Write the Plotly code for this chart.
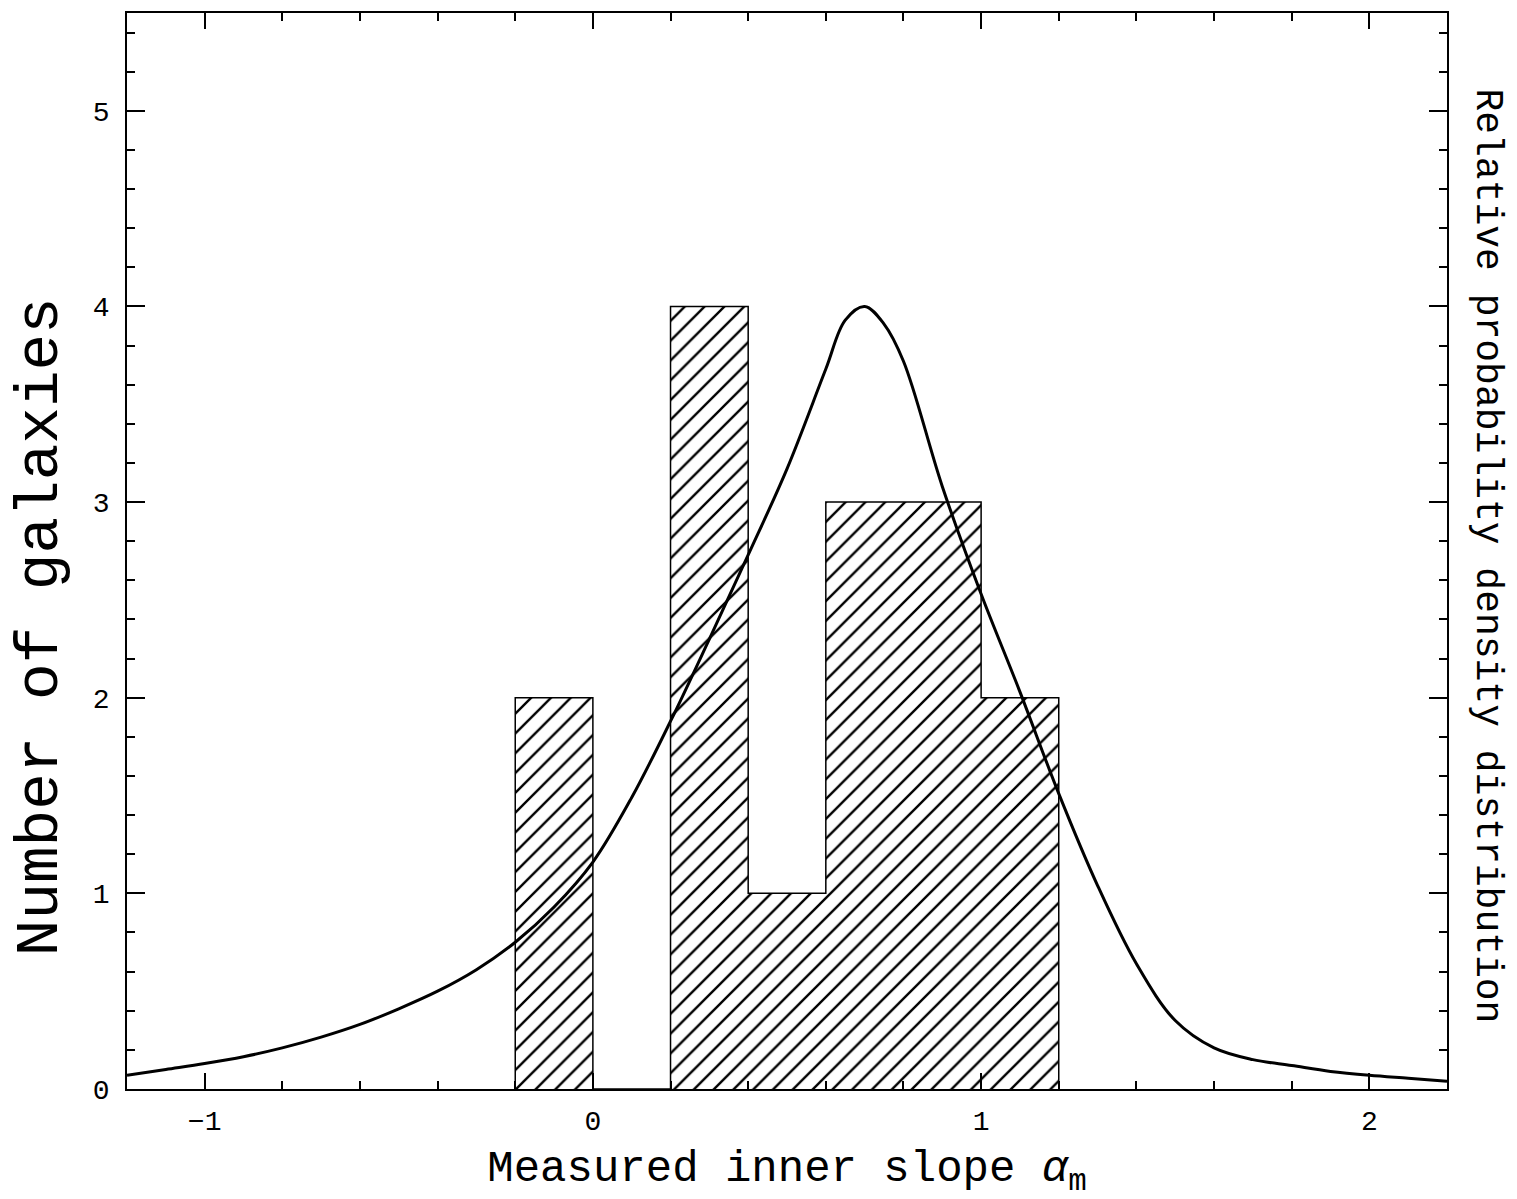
import plotly.graph_objects as go

# Histogram data (bin centres, counts)
bin_centers = [-0.1, 0.1, 0.3, 0.5, 0.7, 0.9, 1.1]
bin_counts = [2, 0, 4, 1, 3, 3, 2]
bin_width = 0.2

# Relative probability density curve (scaled to histogram axis)
curve_x = [-1.2, -1.1, -1.0, -0.9, -0.8, -0.7, -0.6, -0.5, -0.4, -0.3, -0.2, -0.1,
           0.0, 0.1, 0.2, 0.3, 0.4, 0.5, 0.6, 0.65, 0.7, 0.75, 0.8, 0.9, 1.0,
           1.1, 1.2, 1.3, 1.4, 1.5, 1.6, 1.7, 1.8, 1.9, 2.0, 2.1, 2.2]
curve_y = [0.07, 0.10, 0.13, 0.165, 0.21, 0.265, 0.33, 0.41, 0.50, 0.61, 0.75, 0.93,
           1.16, 1.49, 1.88, 2.30, 2.73, 3.17, 3.68, 3.93, 4.00, 3.91, 3.72, 3.08, 2.53,
           2.03, 1.51, 1.04, 0.64, 0.35, 0.21, 0.15, 0.12, 0.09, 0.07, 0.055, 0.04]

x_ticks = [-1, 0, 1, 2]
y_ticks = [0, 1, 2, 3, 4, 5]

FONT = "Liberation Mono"

# Histogram step outline derived from the bins
step_x, step_y = [], []
for c, n in zip(bin_centers, bin_counts):
    step_x += [c - bin_width / 2, c + bin_width / 2]
    step_y += [n, n]
step_x = [step_x[0]] + step_x + [step_x[-1]]
step_y = [0] + step_y + [0]

fig = go.Figure()
fig.add_trace(go.Bar(
    x=bin_centers, y=bin_counts, width=bin_width,
    marker=dict(color="white",
                line=dict(color="black", width=0),
                pattern=dict(shape="/", size=14, solidity=0.17,
                             fgcolor="black", bgcolor="white", fgopacity=1)),
    showlegend=False,
))
fig.add_trace(go.Scatter(
    x=step_x, y=step_y, mode="lines",
    line=dict(color="black", width=1.5, shape="linear"),
    showlegend=False,
))
fig.add_trace(go.Scatter(
    x=curve_x, y=curve_y, mode="lines",
    line=dict(color="black", width=3, shape="spline", smoothing=1.0),
    showlegend=False,
))

axis_common = dict(
    showgrid=False, zeroline=False, showline=True, linecolor="black", linewidth=1.5,
    mirror="ticks", ticks="inside", tickcolor="black", tickwidth=1.5,
    tickfont=dict(family=FONT, size=28, color="black"),
)

fig.update_layout(
    width=1517, height=1199,
    margin=dict(l=127, r=70, t=11, b=110),
    paper_bgcolor="white", plot_bgcolor="white",
    bargap=0,
    xaxis=dict(range=[-1.2, 2.2], tickvals=x_ticks, ticklen=16, ticklabelstandoff=6,
               minor=dict(dtick=0.2, tick0=0, ticklen=8, ticks="inside",
                          tickcolor="black", tickwidth=1.5),
               title=dict(text="Measured inner slope <i>α</i><sub>m</sub>",
                          font=dict(family=FONT, size=44, color="black"), standoff=14),
               **axis_common),
    yaxis=dict(range=[0, 5.5], tickvals=y_ticks, ticklen=18, ticklabelstandoff=10,
               minor=dict(dtick=0.2, tick0=0, ticklen=8, ticks="inside",
                          tickcolor="black", tickwidth=1.5),
               **axis_common),
    annotations=[
        dict(text="Number of galaxies",
             xref="paper", yref="paper", x=-0.066, y=0.43, xanchor="center", yanchor="middle",
             textangle=-90, showarrow=False,
             font=dict(family=FONT, size=61, color="black")),
        dict(text="Relative probability density distribution",
             xref="paper", yref="paper", x=1.031, y=0.495, xanchor="center", yanchor="middle",
             textangle=90, showarrow=False,
             font=dict(family=FONT, size=38, color="black")),
    ],
)

fig.write_html("out.html")
